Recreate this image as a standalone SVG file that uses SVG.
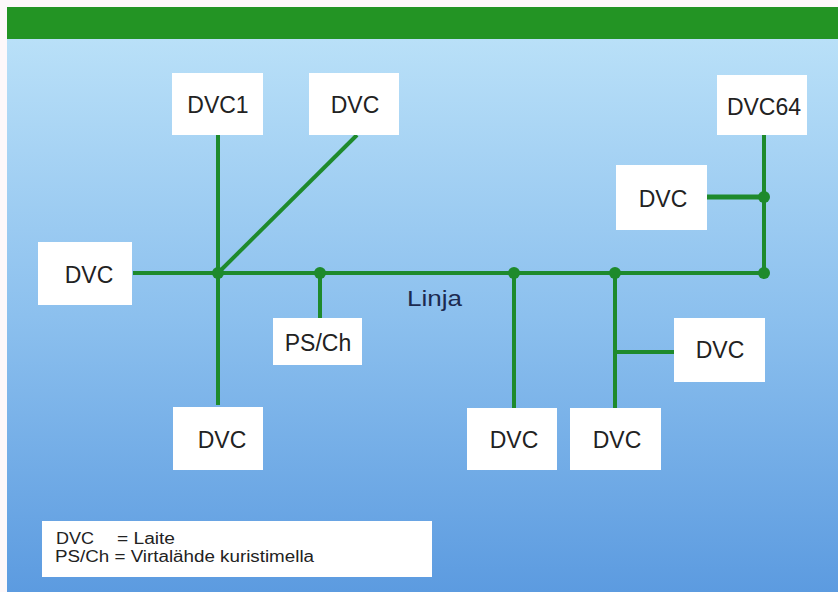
<svg xmlns="http://www.w3.org/2000/svg" width="838" height="592" viewBox="0 0 838 592">
<defs>
<linearGradient id="bg" x1="0" y1="0" x2="0" y2="1">
<stop offset="0" stop-color="#b9e0f8"/>
<stop offset="0.5" stop-color="#8cc0ee"/>
<stop offset="1" stop-color="#5c9be0"/>
</linearGradient>
<style>
.box{fill:#fff;}
.lbl{font-family:"Liberation Sans",Arial,sans-serif;font-size:23px;fill:#222;text-anchor:middle;}
.ln{stroke:#1e8a2c;stroke-width:4;fill:none;stroke-linecap:butt;}
.dot{fill:#1e8a2c;}
.leg{font-family:"Liberation Sans",Arial,sans-serif;font-size:16px;fill:#222;}
</style>
</defs>
<rect x="0" y="0" width="838" height="592" fill="#fdf8fa"/>
<rect x="7" y="39" width="831" height="553" fill="url(#bg)"/>
<rect x="7" y="7" width="831" height="32" fill="#239424"/>
<g id="connectors">
<line class="ln" x1="133" y1="273" x2="764" y2="273"/>
<line class="ln" x1="218" y1="135" x2="218" y2="405"/>
<line class="ln" x1="357" y1="135" x2="218" y2="273"/>
<line class="ln" x1="320" y1="273" x2="320" y2="318"/>
<line class="ln" x1="514" y1="273" x2="514" y2="408"/>
<line class="ln" x1="615" y1="273" x2="615" y2="408"/>
<line class="ln" x1="615" y1="352" x2="674" y2="352"/>
<line class="ln" x1="764" y1="135" x2="764" y2="273"/>
<line class="ln" x1="707" y1="197" x2="764" y2="197" style="stroke-width:5"/>
<circle class="dot" cx="218" cy="273" r="6"/>
<circle class="dot" cx="320" cy="273" r="6"/>
<circle class="dot" cx="514" cy="273" r="6"/>
<circle class="dot" cx="615" cy="273" r="6"/>
<circle class="dot" cx="764" cy="273" r="6"/>
<circle class="dot" cx="764" cy="197" r="6"/>
</g>
<text x="407" y="306" textLength="55" lengthAdjust="spacingAndGlyphs" style="font-family:'Liberation Sans',Arial,sans-serif;font-size:22px;fill:#1c2a50">Linja</text>
<g id="dvc1"><rect class="box" x="172" y="73" width="91" height="62"/><text class="lbl" x="218" y="113">DVC1</text></g>
<g id="dvc-top"><rect class="box" x="309" y="73" width="90" height="62"/><text class="lbl" x="355" y="113">DVC</text></g>
<g id="dvc64"><rect class="box" x="717" y="75" width="90" height="60"/><text class="lbl" x="764" y="115">DVC64</text></g>
<g id="dvc-right-mid"><rect class="box" x="616" y="165" width="91" height="65"/><text class="lbl" x="663" y="207">DVC</text></g>
<g id="dvc-left"><rect class="box" x="38" y="242" width="94" height="63"/><text class="lbl" x="89" y="283">DVC</text></g>
<g id="psch"><rect class="box" x="273" y="318" width="89" height="47"/><text class="lbl" x="318" y="351">PS/Ch</text></g>
<g id="dvc-bottom-left"><rect class="box" x="173" y="407" width="90" height="63"/><text class="lbl" x="222" y="448">DVC</text></g>
<g id="dvc-bottom-1"><rect class="box" x="467" y="408" width="90" height="62"/><text class="lbl" x="514" y="448">DVC</text></g>
<g id="dvc-bottom-2"><rect class="box" x="570" y="408" width="91" height="62"/><text class="lbl" x="617" y="448">DVC</text></g>
<g id="dvc-right-low"><rect class="box" x="674" y="318" width="91" height="64"/><text class="lbl" x="720" y="358">DVC</text></g>
<g id="legend">
<rect class="box" x="42" y="521" width="390" height="56"/>
<text class="leg" x="56" y="544" textLength="38" lengthAdjust="spacingAndGlyphs">DVC</text>
<text class="leg" x="117" y="544" textLength="58" lengthAdjust="spacingAndGlyphs">= Laite</text>
<text class="leg" x="55" y="562" textLength="259" lengthAdjust="spacingAndGlyphs">PS/Ch = Virtalähde kuristimella</text>
</g>
</svg>
